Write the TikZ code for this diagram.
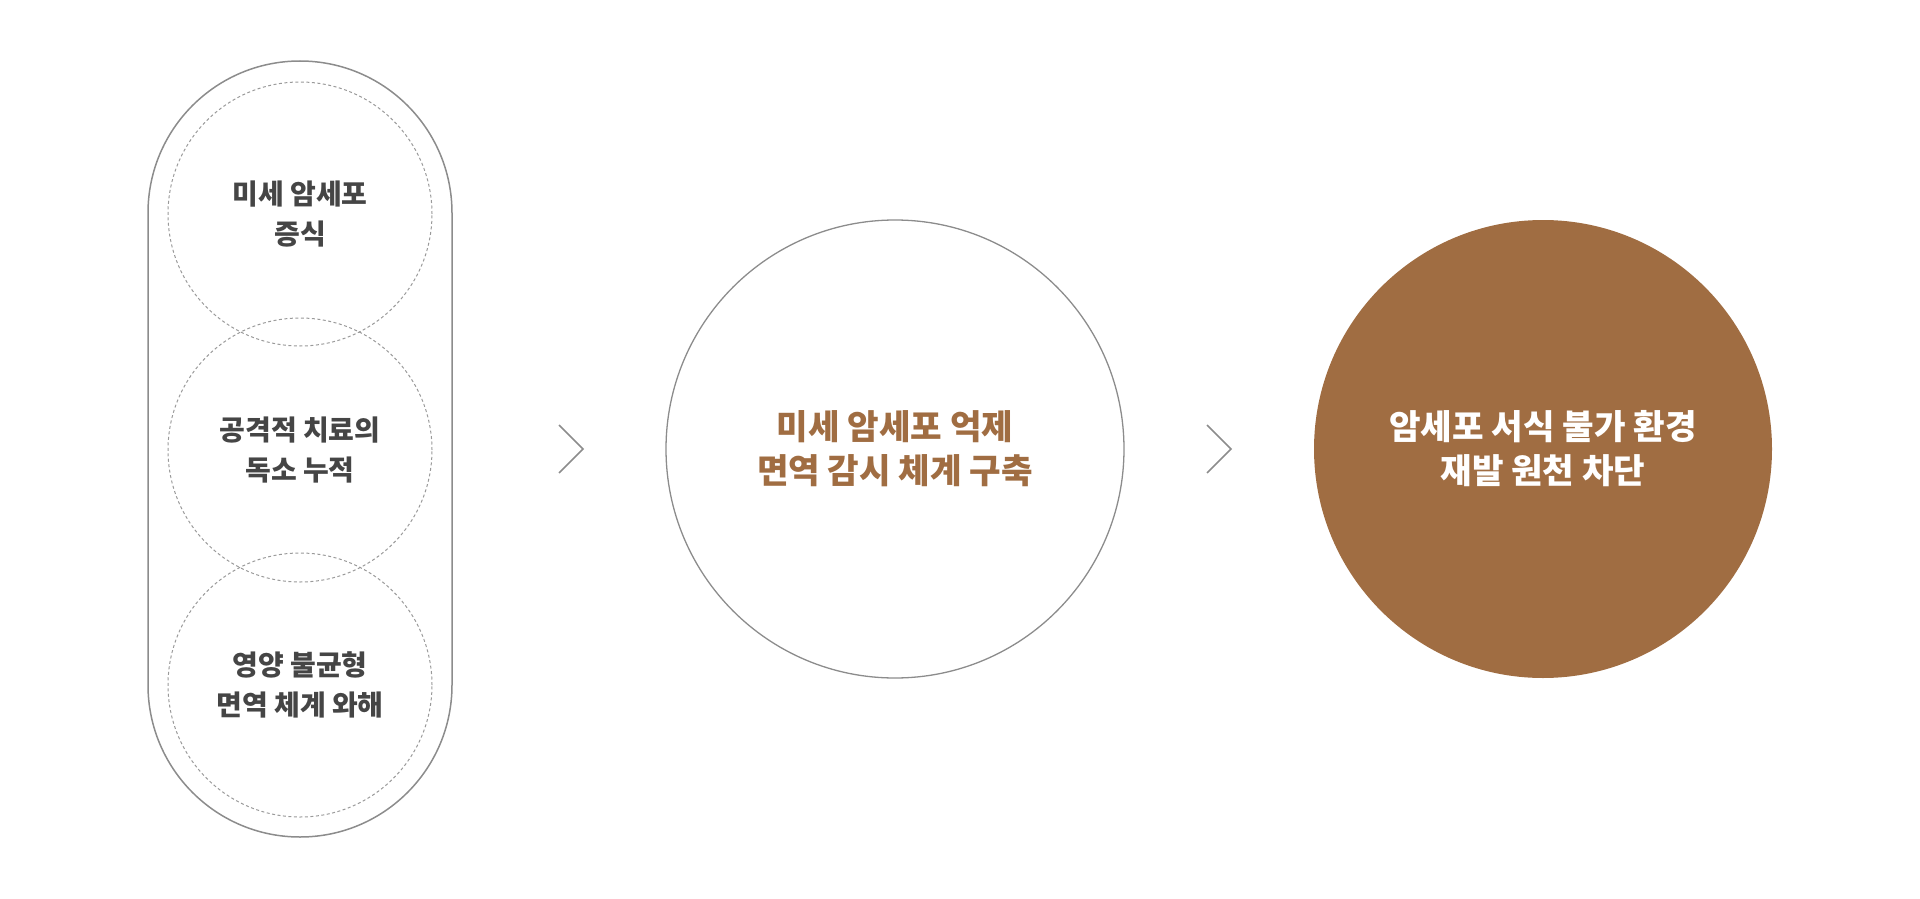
\documentclass[tikz,border=0pt]{standalone}
\usepackage{fontspec}
\setmainfont{Noto Sans CJK KR}
\definecolor{brownfill}{HTML}{A06D42}
\definecolor{darktext}{HTML}{454545}
\definecolor{linegray}{HTML}{8C8C8C}
\definecolor{dashgray}{HTML}{9A9A9A}
\tikzset{
  pill/.style={draw=linegray, line width=1.5pt, rounded corners=152pt, minimum width=304pt, minimum height=776pt, inner sep=0pt},
  subcircle/.style={circle, draw=dashgray, line width=1pt, dash pattern=on 3pt off 2.5pt, minimum size=264pt, inner sep=0pt, align=center, text=darktext, font=\fontsize{28}{40}\selectfont\bfseries},
  midcircle/.style={circle, draw=linegray, line width=1.3pt, minimum size=458pt, inner sep=0pt, align=center, text=brownfill, font=\fontsize{34.3}{44}\selectfont\bfseries},
  goalcircle/.style={circle, fill=brownfill, minimum size=458pt, inner sep=0pt, align=center, text=white, font=\fontsize{34.3}{44}\selectfont\bfseries},
  chevron/.style={draw=linegray, line width=1.5pt}
}
\begin{document}
\begin{tikzpicture}[x=1pt,y=-1pt]
\useasboundingbox (0,0) rectangle (1920,899);
\node[pill] (pill) at (300,449) {};
\node[subcircle] (c1) at (300,214) {미세 암세포\\증식};
\node[subcircle] (c2) at (300,450) {공격적 치료의\\독소 누적};
\node[subcircle] (c3) at (300,685) {영양 불균형\\면역 체계 와해};
\node[midcircle] (mid) at (895,449) {미세 암세포 억제\\면역 감시 체계 구축};
\node[goalcircle] (goal) at (1543,449) {암세포 서식 불가 환경\\재발 원천 차단};
\coordinate (a1) at (583,449);
\coordinate (a2) at (1231,449);
\draw[chevron] ([xshift=-24pt,yshift=-24pt]a1) -- (a1) -- ([xshift=-24pt,yshift=24pt]a1);
\draw[chevron] ([xshift=-24pt,yshift=-24pt]a2) -- (a2) -- ([xshift=-24pt,yshift=24pt]a2);
\end{tikzpicture}
\end{document}
